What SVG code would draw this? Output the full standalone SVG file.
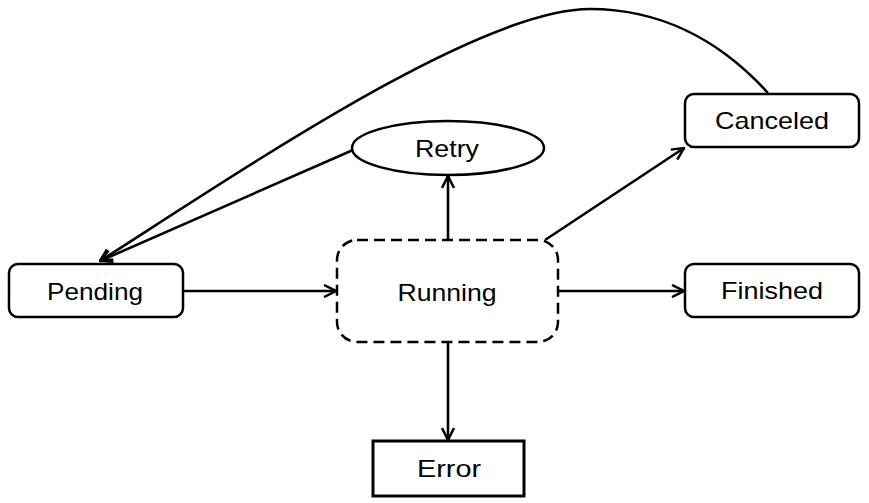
<svg xmlns="http://www.w3.org/2000/svg" width="869" height="503" viewBox="0 0 869 503">
<defs>
<style>
.n{fill:#fff;stroke:#000;stroke-width:2.5}
.t{font-family:"Liberation Sans",Arial,sans-serif;font-size:24px;fill:#000;text-anchor:middle;dominant-baseline:central}
.e{fill:none;stroke:#000;stroke-width:2.6}
</style>
<marker id="a" viewBox="0 0 14 14" refX="13" refY="7" markerWidth="14" markerHeight="14" markerUnits="userSpaceOnUse" orient="auto">
<path d="M1,1 L13,7 L1,13" fill="none" stroke="#000" stroke-width="2.5"/>
</marker>
</defs>
<rect width="869" height="503" fill="#fff"/>
<g id="connectors">
<path class="e" d="M183,291 L336,291" marker-end="url(#a)"/>
<path class="e" d="M448,240 L448,176" marker-end="url(#a)"/>
<path class="e" d="M545,240 L684,148" marker-end="url(#a)"/>
<path class="e" d="M558,291 L684,291" marker-end="url(#a)"/>
<path class="e" d="M448,342 L448,440" marker-end="url(#a)"/>
<path class="e" d="M353,150 L100,261" marker-end="url(#a)"/>
<path class="e" d="M768,93 C720,40 660,9 590,9 C480,9 250,165 100,261" marker-end="url(#a)"/>
</g>
<g id="pending"><rect class="n" x="9" y="264" width="174" height="53" rx="9"/><text class="t" x="95" y="291" textLength="96" lengthAdjust="spacingAndGlyphs">Pending</text></g>
<g id="running"><rect class="n" x="337" y="240" width="221" height="102" rx="20" stroke-dasharray="11,6"/><text class="t" x="447" y="292" textLength="99" lengthAdjust="spacingAndGlyphs">Running</text></g>
<g id="retry"><ellipse class="n" cx="448" cy="148" rx="96" ry="27"/><text class="t" x="447" y="148" textLength="64" lengthAdjust="spacingAndGlyphs">Retry</text></g>
<g id="canceled"><rect class="n" x="685" y="94" width="174" height="53" rx="9"/><text class="t" x="772" y="120" textLength="114" lengthAdjust="spacingAndGlyphs">Canceled</text></g>
<g id="finished"><rect class="n" x="685" y="264" width="174" height="53" rx="9"/><text class="t" x="772" y="290" textLength="102" lengthAdjust="spacingAndGlyphs">Finished</text></g>
<g id="error"><rect class="n" x="373" y="441" width="151" height="55" style="stroke-width:3"/><text class="t" x="449" y="468" textLength="64" lengthAdjust="spacingAndGlyphs">Error</text></g>
</svg>
